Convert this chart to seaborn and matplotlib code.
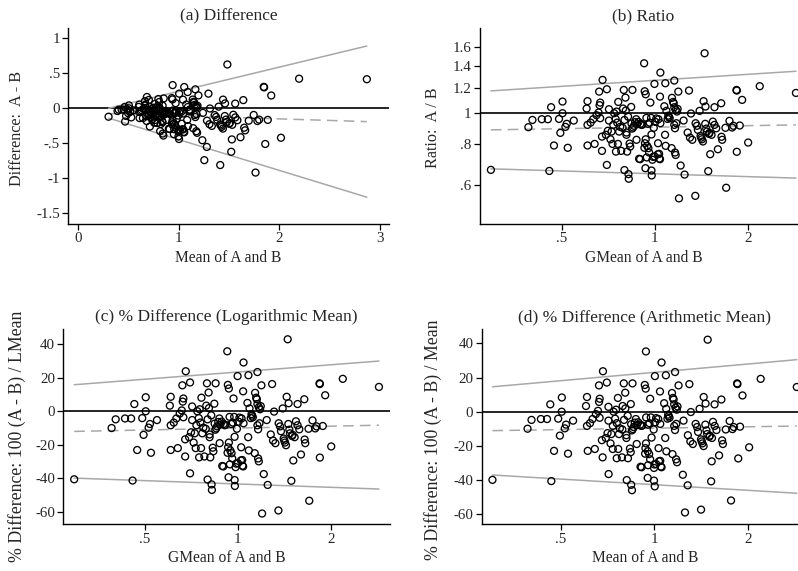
import numpy as np
import pandas as pd
import matplotlib
matplotlib.use("Agg")
import matplotlib.pyplot as plt
import matplotlib.ticker as mticker
import seaborn as sns

sns.set_style("white")
plt.rcParams["font.family"] = ["Liberation Serif", "DejaVu Serif"]

# ---- data: geometric mean of A and B, and ratio A/B ----
gmean = [0.295, 0.390, 0.402, 0.431, 0.451, 0.462, 0.456, 0.472, 0.490, 0.495,
         0.503, 0.503, 0.514, 0.519, 0.523, 0.547, 0.602, 0.606, 0.606, 0.606,
         0.620, 0.632, 0.639, 0.648, 0.658, 0.661, 0.663, 0.666, 0.666, 0.675,
         0.678, 0.675, 0.695, 0.700, 0.700, 0.705, 0.711, 0.711, 0.719, 0.725,
         0.730, 0.734, 0.739, 0.747, 0.749, 0.752, 0.756, 0.762, 0.760, 0.767,
         0.773, 0.779, 0.787, 0.790, 0.794, 0.798, 0.798, 0.804, 0.806, 0.810,
         0.810, 0.814, 0.820, 0.822, 0.824, 0.829, 0.833, 0.839, 0.841, 0.845,
         0.847, 0.851, 0.856, 0.864, 0.871, 0.873, 0.877, 0.886, 0.890, 0.897,
         0.899, 0.906, 0.912, 0.924, 0.928, 0.933, 0.935, 0.926, 0.930, 0.935,
         0.940, 0.942, 0.945, 0.952, 0.954, 0.959, 0.963, 0.968, 0.973, 0.976,
         0.976, 0.978, 0.983, 0.988, 0.993, 0.998, 1.000, 1.005, 1.012, 1.023,
         1.025, 1.028, 1.033, 1.035, 1.040, 1.040, 1.043, 1.043, 1.082, 1.074,
         1.080, 1.085, 1.091, 1.101, 1.107, 1.112, 1.118, 1.134, 1.137, 1.146,
         1.152, 1.157, 1.157, 1.163, 1.169, 1.157, 1.163, 1.169, 1.175, 1.180,
         1.186, 1.192, 1.198, 1.213, 1.240, 1.249, 1.278, 1.291, 1.300, 1.310,
         1.323, 1.353, 1.356, 1.370, 1.379, 1.397, 1.407, 1.414, 1.421, 1.432,
         1.439, 1.450, 1.457, 1.460, 1.468, 1.475, 1.490, 1.497, 1.504, 1.512,
         1.527, 1.542, 1.561, 1.561, 1.581, 1.601, 1.641, 1.645, 1.653, 1.703,
         1.694, 1.745, 1.780, 1.798, 1.839, 1.843, 1.843, 1.884, 1.918, 2.006,
         2.187, 2.864]
ratio = [0.667, 0.905, 0.953, 0.958, 0.958, 1.044, 0.662, 0.794, 0.960, 0.869,
         1.087, 1.000, 0.907, 0.927, 0.781, 0.949, 1.034, 1.090, 0.920, 0.794,
         0.935, 0.958, 0.803, 0.986, 1.005, 1.167, 1.059, 1.079, 0.965, 0.764,
         1.269, 0.846, 0.857, 1.187, 0.691, 0.882, 1.029, 0.949, 0.830, 0.877,
         0.803, 0.920, 1.000, 0.960, 0.760, 1.012, 0.935, 1.084, 0.803, 0.877,
         0.907, 0.764, 0.901, 1.034, 1.181, 0.666, 0.953, 1.118, 1.019, 0.857,
         0.871, 0.760, 0.976, 0.647, 0.626, 0.805, 0.788, 1.046, 0.929, 0.896,
         1.181, 0.903, 0.914, 0.938, 0.958, 0.827, 0.924, 0.940, 0.722, 0.720,
         0.927, 0.920, 0.922, 1.429, 1.170, 0.675, 1.145, 0.781, 0.807, 0.830,
         0.967, 0.729, 0.792, 0.927, 0.779, 0.755, 0.935, 1.079, 0.967, 0.664,
         0.859, 0.641, 0.717, 0.732, 0.901, 1.233, 0.734, 0.940, 0.963, 0.746,
         0.807, 0.958, 0.748, 0.723, 0.720, 1.126, 1.337, 0.931, 1.239, 1.051,
         0.857, 0.792, 1.017, 0.960, 0.983, 0.974, 0.965, 0.779, 1.116, 1.084,
         1.074, 1.263, 1.044, 0.755, 0.742, 0.920, 0.898, 1.024, 0.931, 1.012,
         1.031, 1.167, 0.544, 0.688, 0.949, 0.645, 0.871, 1.176, 0.840, 0.998,
         0.827, 0.554, 0.931, 0.914, 0.888, 1.017, 0.850, 0.840, 0.830, 0.817,
         1.090, 1.535, 0.927, 1.049, 0.896, 0.877, 0.661, 0.863, 0.869, 0.746,
         0.857, 0.942, 1.044, 0.920, 0.898, 0.773, 1.074, 0.845, 0.827, 0.587,
         0.901, 0.947, 0.903, 0.914, 1.181, 1.176, 0.759, 0.916, 1.100, 0.811,
         1.213, 1.156]

# ---- fitted limit / bias lines (values at the left and right ends of the data) ----
a_upper = [0.00, 0.89]
a_bias = [-0.075, -0.19]
a_lower = [-0.14, -1.27]
b_upper = [1.173, 1.350]
b_bias = [0.888, 0.920]
b_lower = [0.672, 0.629]
c_upper = [15.8, 29.9]
c_bias = [-12.0, -8.3]
c_lower = [-39.8, -46.3]
d_upper = [14.6, 30.5]
d_bias = [-11.1, -8.4]
d_lower = [-37.1, -47.8]

titles = ["(a) Difference", "(b) Ratio",
          "(c) % Difference (Logarithmic Mean)", "(d) % Difference (Arithmetic Mean)"]
xlabels = ["Mean of A and B", "GMean of A and B", "GMean of A and B", "Mean of A and B"]
ylabels = ["Difference:  A - B", "Ratio:  A / B",
           "% Difference: 100 (A - B) / LMean", "% Difference: 100 (A - B) / Mean"]

a_yticks = [1, 0.5, 0, -0.5, -1, -1.5]
a_yticklabels = ["1", ".5", "0", "-.5", "-1", "-1.5"]
a_xticks = [0, 1, 2, 3]
b_yticks = [0.6, 0.8, 1, 1.2, 1.4, 1.6]
b_yticklabels = [".6", ".8", "1", "1.2", "1.4", "1.6"]
log_xticks = [0.5, 1, 2]
log_xticklabels = [".5", "1", "2"]
pct_yticks = [40, 20, 0, -20, -40, -60]

# ---- derived quantities ----
g = np.array(gmean)
r = np.array(ratio)
A = g * np.sqrt(r)
B = g / np.sqrt(r)
amean = (A + B) / 2
df = pd.DataFrame({
    "amean": amean, "diff": A - B, "gmean": g, "ratio": r,
    "pct_log": 100 * np.log(A / B), "pct_mean": 100 * (A - B) / amean,
})

W, H = 798, 571
fig = plt.figure(figsize=(W / 100, H / 100), dpi=100)


def add_axes(left, right, top, bottom):
    return fig.add_axes([left / W, 1 - bottom / H, (right - left) / W, (bottom - top) / H])


axA = add_axes(68.3, 389.0, 28.3, 224.0)
axB = add_axes(480.0, 807.0, 28.3, 224.0)
axC = add_axes(63.3, 390.0, 329.3, 524.3)
axD = add_axes(481.7, 808.0, 329.3, 524.3)

GRAY = "#a8a8a8"
specs = [
    (axA, "amean", "diff", a_upper, a_bias, a_lower, 0.0),
    (axB, "gmean", "ratio", b_upper, b_bias, b_lower, 1.0),
    (axC, "gmean", "pct_log", c_upper, c_bias, c_lower, 0.0),
    (axD, "amean", "pct_mean", d_upper, d_bias, d_lower, 0.0),
]
ylabel_sizes = [11.6, 11.6, 12.8, 12.8]

for i, (ax, xc, yc, up, bias, lo, ref) in enumerate(specs):
    if xc == "gmean" or i == 3:
        ax.set_xscale("log")
    if i == 1:
        ax.set_yscale("log")
    xs = [df[xc].min(), df[xc].max()]
    ax.axhline(ref, color="black", lw=1.2, zorder=1)
    ax.plot(xs, up, color=GRAY, lw=1.1, zorder=1)
    ax.plot(xs, lo, color=GRAY, lw=1.1, zorder=1)
    ax.plot(xs, bias, color=GRAY, lw=1.1, ls=(0, (7, 4)), zorder=1)
    sns.scatterplot(data=df, x=xc, y=yc, ax=ax, marker="o", s=25,
                    facecolor="none", edgecolor="black", linewidth=0.95, zorder=3)
    ax.set_title(titles[i], fontsize=12.5, pad=6)
    ax.set_xlabel(xlabels[i], fontsize=11.2, labelpad=2)
    ax.set_ylabel(ylabels[i], fontsize=ylabel_sizes[i])
    for s in ["top", "right"]:
        ax.spines[s].set_visible(False)
    for s in ["left", "bottom"]:
        ax.spines[s].set_color("black")
        ax.spines[s].set_linewidth(1.0)
    ax.tick_params(axis="both", which="major", direction="out", length=4, width=0.9,
                   labelsize=10.8, color="black", pad=2, left=True, bottom=True)
    ax.tick_params(axis="both", which="minor", left=False, bottom=False,
                   labelleft=False, labelbottom=False)

# limits and ticks
axA.set_xlim(-0.0995, 3.092)
axA.set_ylim(-1.653, 1.143)
axA.set_xticks(a_xticks)
axA.set_xticklabels([str(t) for t in a_xticks])
axA.set_yticks(a_yticks)
axA.set_yticklabels(a_yticklabels)

axB.set_xlim(0.272, 3.11)
axB.set_ylim(0.453, 1.835)
axB.set_yticks(b_yticks)
axB.set_yticklabels(b_yticklabels)

axC.set_xlim(0.272, 3.11)
axC.set_ylim(-67.3, 48.8)
axD.set_xlim(0.278, 3.12)
axD.set_ylim(-66.0, 48.3)
for ax in (axC, axD):
    ax.set_yticks(pct_yticks)
    ax.set_yticklabels([str(t) for t in pct_yticks])

for ax in (axB, axC, axD):
    ax.set_xticks(log_xticks)
    ax.set_xticklabels(log_xticklabels)
    ax.xaxis.set_minor_locator(mticker.NullLocator())
axB.yaxis.set_minor_locator(mticker.NullLocator())


def ylabel_at(ax, xpix, ypix):
    bb = ax.get_position()
    left = bb.x0 * W
    width = bb.width * W
    bottom = (1 - bb.y0) * H
    height = bb.height * H
    ax.yaxis.set_label_coords((xpix - left) / width, (bottom - ypix) / height)


def xlabel_at(ax, ypix):
    bb = ax.get_position()
    bottom = (1 - bb.y0) * H
    height = bb.height * H
    ax.xaxis.set_label_coords(0.5, -(ypix - bottom) / height)


ylabel_at(axA, 17, 128)
ylabel_at(axB, 433, 128)
ylabel_at(axC, 17, 436)
ylabel_at(axD, 433, 440)
for ax in (axA, axB, axC, axD):
    ax.xaxis.label.set_va("center")
    ax.yaxis.label.set_va("center")
xlabel_at(axA, 258)
xlabel_at(axB, 258)
xlabel_at(axC, 558)
xlabel_at(axD, 558)

fig.savefig("out.png", dpi=100, facecolor="white")
